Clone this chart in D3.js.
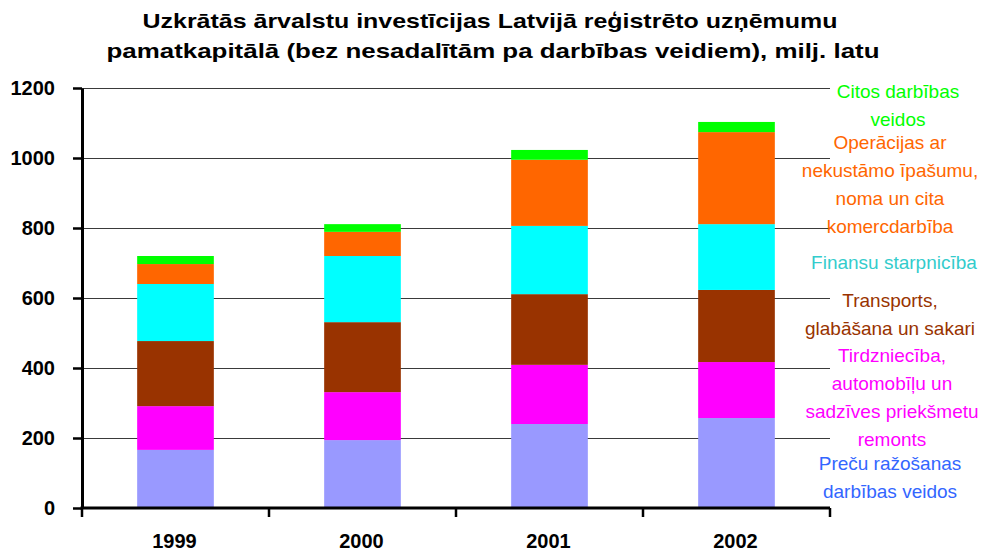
<!DOCTYPE html>
<html>
<head>
<meta charset="utf-8">
<script src="https://cdn.jsdelivr.net/npm/d3@7"></script>
<style>
  html, body { margin: 0; padding: 0; background: #fff; }
  svg { display: block; font-family: "Liberation Sans", Arial, sans-serif; }
</style>
</head>
<body>
<svg id="chart" width="984" height="552"></svg>
<script>
// ---- data ----
const years = ["1999", "2000", "2001", "2002"];
const seriesNames = [
  "Preču ražošanas darbības veidos",
  "Tirdzniecība, automobīļu un sadzīves priekšmetu remonts",
  "Transports, glabāšana un sakari",
  "Finansu starpnicība",
  "Operācijas ar nekustāmo īpašumu, noma un cita komercdarbība",
  "Citos darbības veidos"
];
const razosana     = [166, 194, 240, 257];
const tirdznieciba = [125, 137, 169, 160];
const transports   = [186, 200, 202, 206];
const finansu      = [163, 189, 195, 188];
const operacijas   = [57, 69, 189, 263];
const citos        = [23, 22, 28, 29];
const yTicks = [0, 200, 400, 600, 800, 1000, 1200];
const titleLines = [
  "Uzkrātās ārvalstu investīcijas Latvijā reģistrēto uzņēmumu",
  "pamatkapitālā (bez nesadalītām pa darbības veidiem), milj. latu"
];
const legendLines = [
  ["Preču ražošanas", "darbības veidos"],
  ["Tirdzniecība,", "automobīļu un", "sadzīves priekšmetu", "remonts"],
  ["Transports,", "glabāšana un sakari"],
  ["Finansu starpnicība"],
  ["Operācijas ar", "nekustāmo īpašumu,", "noma un cita", "komercdarbība"],
  ["Citos darbības", "veidos"]
];

// ---- style / layout ----
const barColors = ["#9999FF", "#FF00FF", "#993300", "#00FFFF", "#FF6600", "#00FF00"];
const textColors = ["#3366FF", "#FF00FF", "#993300", "#33CCCC", "#FF6600", "#00FF00"];
const legendFirstY = [463, 355, 300, 262, 142, 91];
const legendX = [890, 892, 890, 894, 890, 898];
const legendLineH = 28;
const titleWidths = [695, 773];
const titleX = [490, 493];

const svg = d3.select("#chart");
const plot = { left: 82, right: 830, top: 88, bottom: 508 };

const x = d3.scaleBand().domain(years).range([plot.left, plot.right]).padding(0);
const barW = x.bandwidth() * 0.41;
const y = d3.scaleLinear().domain([0, 1200]).range([plot.bottom, plot.top]);

const seriesValues = [razosana, tirdznieciba, transports, finansu, operacijas, citos];
const rows = years.map((yr, i) => {
  const r = { year: yr };
  seriesValues.forEach((s, k) => r["s" + k] = s[i]);
  return r;
});
const stack = d3.stack().keys(seriesValues.map((_, k) => "s" + k));
const layers = stack(rows);

// gridlines
svg.append("g")
  .selectAll("line")
  .data(yTicks.filter(t => t > 0))
  .join("line")
  .attr("x1", plot.left).attr("x2", plot.right)
  .attr("y1", d => Math.round(y(d)) + 0.5).attr("y2", d => Math.round(y(d)) + 0.5)
  .attr("stroke", "#3a3a3a").attr("stroke-width", 1);

// bars
svg.append("g")
  .selectAll("g")
  .data(layers)
  .join("g")
  .attr("fill", (d, k) => barColors[k])
  .selectAll("rect")
  .data(d => d)
  .join("rect")
  .attr("x", d => x(d.data.year) + (x.bandwidth() - barW) / 2)
  .attr("width", barW)
  .attr("y", d => y(d[1]))
  .attr("height", d => y(d[0]) - y(d[1]));

// y axis
const yAxis = svg.append("g")
  .attr("transform", `translate(${plot.left},0)`)
  .call(d3.axisLeft(y).tickValues(yTicks).tickFormat(d3.format("d"))
    .tickSize(9).tickSizeOuter(0).tickPadding(18));
yAxis.select(".domain").attr("stroke", "#000").attr("stroke-width", 3);
yAxis.selectAll(".tick line").attr("stroke", "#000").attr("stroke-width", 2.5);
yAxis.selectAll(".tick text")
  .attr("font-family", "Liberation Sans, Arial, sans-serif")
  .attr("font-size", 20).attr("font-weight", "bold").attr("fill", "#000");

// x axis
const xAxis = svg.append("g")
  .attr("transform", `translate(0,${plot.bottom})`);
xAxis.append("line")
  .attr("x1", plot.left - 1.5).attr("x2", plot.right)
  .attr("stroke", "#000").attr("stroke-width", 3);
const bounds = years.map(d => x(d)).concat([plot.right]);
xAxis.selectAll("line.tk")
  .data(bounds)
  .join("line")
  .attr("class", "tk")
  .attr("x1", d => d).attr("x2", d => d)
  .attr("y1", 0).attr("y2", 9)
  .attr("stroke", "#000").attr("stroke-width", 2.5);
xAxis.selectAll("text")
  .data(years)
  .join("text")
  .attr("x", d => x(d) + x.bandwidth() / 2 - 1)
  .attr("y", 40)
  .attr("text-anchor", "middle")
  .attr("font-size", 20).attr("font-weight", "bold").attr("fill", "#000")
  .text(d => d);

// title
svg.append("g")
  .selectAll("text")
  .data(titleLines)
  .join("text")
  .attr("x", (d, i) => titleX[i])
  .attr("y", (d, i) => 28 + i * 30)
  .attr("text-anchor", "middle")
  .attr("textLength", (d, i) => titleWidths[i])
  .attr("lengthAdjust", "spacingAndGlyphs")
  .attr("font-size", 21).attr("font-weight", "bold").attr("fill", "#000")
  .text(d => d);

// labels (legend)
const lg = svg.append("g");
legendLines.forEach((lines, k) => {
  lg.selectAll(null)
    .data(lines)
    .join("text")
    .attr("x", legendX[k])
    .attr("y", (d, i) => legendFirstY[k] + i * legendLineH)
    .attr("dy", "0.35em")
    .attr("text-anchor", "middle")
    .attr("font-size", 19)
    .attr("fill", textColors[k])
    .text(d => d);
});
</script>
</body>
</html>
